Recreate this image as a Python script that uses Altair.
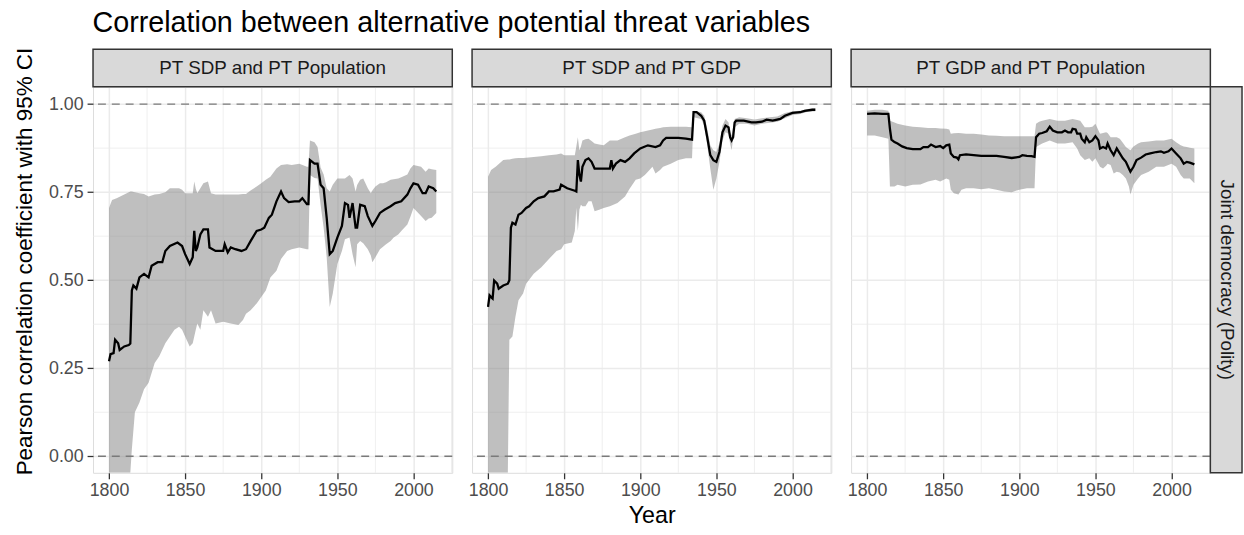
import altair as alt
import pandas as pd

FONT = "Liberation Sans"

TITLE = "Correlation between alternative potential threat variables"
PANELS = ["PT SDP and PT Population", "PT SDP and PT GDP", "PT GDP and PT Population"]
ROW_LABEL = "Joint democracy (Polity)"
X_TITLE = "Year"
Y_TITLE = "Pearson correlation coefficient with 95% CI"

X_TICKS = [1800, 1850, 1900, 1950, 2000]
X_MINOR = [1825, 1875, 1925, 1975, 2025]
Y_TICKS = [0.0, 0.25, 0.5, 0.75, 1.0]
Y_MINOR = [0.125, 0.375, 0.625, 0.875]
REF_LINES = [0.0, 1.0]

# ---------------- Panel 1: PT SDP and PT Population ----------------
p1_year = [1800, 1801, 1803, 1804, 1806, 1807, 1810, 1813, 1814, 1815, 1816, 1818, 1820, 1823, 1826,
           1828, 1832, 1835, 1837, 1840, 1845, 1848, 1850, 1853, 1855, 1856, 1857, 1858, 1860, 1862,
           1865, 1866, 1870, 1875, 1876, 1878, 1880, 1883, 1887, 1890, 1893, 1897, 1900, 1902, 1905,
           1907, 1910, 1913, 1915, 1918, 1922, 1925, 1927, 1930, 1931, 1932, 1935, 1937, 1939, 1941,
           1943, 1945, 1947, 1950, 1953, 1955, 1957, 1958, 1960, 1962, 1963, 1965, 1968, 1970, 1973,
           1975, 1978, 1981, 1985, 1988, 1992, 1996, 1998, 2000, 2003, 2006, 2008, 2010, 2013, 2015]
p1_r = [0.270, 0.290, 0.293, 0.331, 0.321, 0.302, 0.312, 0.316, 0.320, 0.471, 0.485, 0.476, 0.508, 0.518, 0.508,
        0.541, 0.551, 0.551, 0.583, 0.597, 0.607, 0.597, 0.574, 0.546, 0.565, 0.640, 0.583, 0.593, 0.630, 0.644,
        0.644, 0.593, 0.583, 0.583, 0.602, 0.579, 0.593, 0.588, 0.583, 0.588, 0.611, 0.640, 0.644, 0.649, 0.677,
        0.686, 0.724, 0.752, 0.733, 0.722, 0.724, 0.724, 0.733, 0.716, 0.716, 0.841, 0.831, 0.831, 0.771, 0.761,
        0.677, 0.574, 0.583, 0.621, 0.654, 0.719, 0.714, 0.677, 0.719, 0.649, 0.649, 0.714, 0.710, 0.682, 0.654,
        0.668, 0.691, 0.700, 0.710, 0.719, 0.724, 0.743, 0.761, 0.775, 0.771, 0.747, 0.747, 0.766, 0.761, 0.752]
p1_band_year = [1800, 1802, 1805, 1810, 1814, 1815, 1817, 1820, 1823, 1826, 1830, 1833, 1837, 1840, 1843,
                1846, 1848, 1850, 1853, 1855, 1856, 1857, 1858, 1860, 1862, 1865, 1867, 1870, 1875, 1880,
                1885, 1888, 1890, 1893, 1897, 1900, 1903, 1906, 1910, 1913, 1917, 1920, 1925, 1930, 1931,
                1932, 1935, 1937, 1939, 1941, 1943, 1945, 1947, 1950, 1953, 1955, 1958, 1960, 1962, 1963,
                1965, 1967, 1970, 1972, 1973, 1975, 1978, 1980, 1982, 1985, 1987, 1990, 1992, 1996, 1998,
                2000, 2005, 2008, 2010, 2012, 2015]
p1_hi = [0.705, 0.728, 0.733, 0.743, 0.752, 0.752, 0.750, 0.747, 0.745, 0.738, 0.743, 0.745, 0.750, 0.761, 0.761,
         0.761, 0.757, 0.747, 0.747, 0.747, 0.780, 0.760, 0.747, 0.761, 0.775, 0.780, 0.747, 0.743, 0.743, 0.743,
         0.743, 0.745, 0.745, 0.755, 0.766, 0.775, 0.785, 0.794, 0.817, 0.827, 0.829, 0.827, 0.831, 0.822, 0.822,
         0.897, 0.892, 0.878, 0.820, 0.800, 0.761, 0.752, 0.771, 0.789, 0.789, 0.789, 0.799, 0.789, 0.752, 0.770,
         0.785, 0.789, 0.761, 0.747, 0.755, 0.766, 0.775, 0.775, 0.778, 0.785, 0.787, 0.789, 0.792, 0.800, 0.817,
         0.827, 0.822, 0.808, 0.817, 0.815, 0.813]
p1_lo = [-0.047, -0.047, -0.047, -0.047, -0.047, 0.020, 0.125, 0.153, 0.190, 0.209, 0.265, 0.284, 0.321, 0.340, 0.359,
         0.368, 0.359, 0.340, 0.312, 0.321, 0.340, 0.359, 0.377, 0.359, 0.415, 0.396, 0.415, 0.377, 0.382, 0.377,
         0.373, 0.387, 0.405, 0.415, 0.434, 0.452, 0.471, 0.508, 0.527, 0.560, 0.583, 0.588, 0.593, 0.588, 0.588,
         0.799, 0.790, 0.789, 0.714, 0.649, 0.565, 0.424, 0.462, 0.546, 0.583, 0.616, 0.621, 0.574, 0.537, 0.602,
         0.611, 0.605, 0.588, 0.570, 0.551, 0.565, 0.588, 0.595, 0.602, 0.611, 0.621, 0.630, 0.640, 0.658, 0.680,
         0.705, 0.682, 0.668, 0.675, 0.677, 0.691]

# ---------------- Panel 2: PT SDP and PT GDP ----------------
p2_year = [1800, 1801, 1802, 1803, 1804, 1806, 1807, 1810, 1813, 1814, 1815, 1816, 1818, 1820, 1822,
           1825, 1827, 1830, 1833, 1837, 1840, 1843, 1847, 1848, 1852, 1857, 1858, 1859, 1860, 1861,
           1862, 1864, 1866, 1868, 1870, 1875, 1880, 1881, 1882, 1884, 1887, 1890, 1893, 1896, 1900,
           1905, 1910, 1913, 1915, 1917, 1920, 1925, 1930, 1934, 1935, 1937, 1940, 1942, 1944, 1946,
           1948, 1950, 1952, 1954, 1956, 1958, 1959, 1960, 1961, 1962, 1963, 1968, 1973, 1976, 1980,
           1983, 1987, 1992, 1995, 2000, 2005, 2008, 2013, 2015]
p2_r = [0.424, 0.457, 0.452, 0.448, 0.499, 0.490, 0.476, 0.485, 0.490, 0.500, 0.649, 0.663, 0.658, 0.686, 0.691,
        0.705, 0.710, 0.724, 0.733, 0.738, 0.752, 0.752, 0.757, 0.771, 0.761, 0.754, 0.752, 0.841, 0.799, 0.780,
        0.822, 0.841, 0.846, 0.836, 0.817, 0.817, 0.817, 0.841, 0.817, 0.831, 0.841, 0.836, 0.846, 0.860, 0.874,
        0.883, 0.878, 0.883, 0.897, 0.904, 0.904, 0.904, 0.902, 0.899, 0.977, 0.977, 0.967, 0.953, 0.906, 0.855,
        0.841, 0.836, 0.864, 0.920, 0.939, 0.934, 0.906, 0.897, 0.906, 0.948, 0.953, 0.953, 0.948, 0.948, 0.950,
        0.956, 0.953, 0.958, 0.967, 0.975, 0.977, 0.981, 0.984, 0.984]
p2_band_year = [1800, 1802, 1805, 1810, 1813, 1814, 1816, 1818, 1820, 1823, 1825, 1830, 1835, 1840, 1845,
                1848, 1850, 1855, 1857, 1858, 1859, 1860, 1861, 1862, 1864, 1866, 1868, 1870, 1873, 1876,
                1880, 1885, 1890, 1893, 1897, 1900, 1903, 1905, 1908, 1910, 1913, 1915, 1920, 1925, 1930,
                1934, 1935, 1940, 1942, 1944, 1946, 1948, 1950, 1952, 1954, 1956, 1958, 1959, 1960, 1962,
                1965, 1970, 1975, 1980, 1985, 1990, 1995, 2000, 2005, 2010, 2015]
p2_hi = [0.794, 0.813, 0.822, 0.841, 0.843, 0.843, 0.845, 0.846, 0.847, 0.847, 0.848, 0.850, 0.852, 0.855, 0.857,
         0.860, 0.855, 0.855, 0.855, 0.880, 0.906, 0.869, 0.880, 0.897, 0.900, 0.902, 0.895, 0.888, 0.885, 0.883,
         0.897, 0.897, 0.906, 0.911, 0.916, 0.920, 0.923, 0.925, 0.928, 0.930, 0.932, 0.934, 0.936, 0.936, 0.936,
         0.934, 0.981, 0.977, 0.967, 0.930, 0.883, 0.869, 0.864, 0.888, 0.939, 0.958, 0.948, 0.920, 0.911, 0.958,
         0.963, 0.960, 0.956, 0.960, 0.963, 0.965, 0.975, 0.980, 0.981, 0.986, 0.988]
p2_lo = [-0.047, -0.047, -0.047, -0.047, -0.047, 0.331, 0.340, 0.396, 0.443, 0.462, 0.490, 0.518, 0.537, 0.560, 0.583,
         0.588, 0.602, 0.607, 0.640, 0.705, 0.640, 0.700, 0.714, 0.710, 0.710, 0.724, 0.724, 0.696, 0.700, 0.705,
         0.710, 0.719, 0.738, 0.760, 0.785, 0.789, 0.799, 0.808, 0.822, 0.803, 0.813, 0.822, 0.831, 0.841, 0.846,
         0.846, 0.963, 0.958, 0.939, 0.883, 0.817, 0.757, 0.789, 0.836, 0.897, 0.920, 0.916, 0.888, 0.869, 0.934,
         0.944, 0.944, 0.939, 0.944, 0.947, 0.950, 0.960, 0.969, 0.972, 0.978, 0.980]

# ---------------- Panel 3: PT GDP and PT Population ----------------
p3_year = [1800, 1805, 1810, 1814, 1815, 1816, 1818, 1820, 1823, 1826, 1830, 1835, 1837, 1840, 1842,
           1845, 1848, 1850, 1852, 1854, 1855, 1857, 1859, 1860, 1861, 1865, 1870, 1875, 1880, 1885,
           1890, 1895, 1900, 1902, 1905, 1908, 1910, 1911, 1913, 1915, 1918, 1920, 1922, 1925, 1928,
           1930, 1932, 1934, 1935, 1937, 1938, 1940, 1941, 1943, 1944, 1946, 1948, 1950, 1952, 1953,
           1955, 1957, 1958, 1960, 1962, 1964, 1966, 1968, 1970, 1972, 1973, 1975, 1977, 1980, 1983,
           1986, 1990, 1993, 1995, 1998, 2000, 2003, 2006, 2008, 2010, 2012, 2015]
p3_r = [0.972, 0.974, 0.972, 0.972, 0.930, 0.899, 0.892, 0.888, 0.880, 0.875, 0.872, 0.872, 0.878, 0.878, 0.885,
        0.878, 0.881, 0.875, 0.883, 0.885, 0.860, 0.850, 0.848, 0.843, 0.855, 0.857, 0.855, 0.853, 0.853, 0.853,
        0.850, 0.847, 0.850, 0.855, 0.853, 0.852, 0.850, 0.906, 0.916, 0.918, 0.923, 0.936, 0.925, 0.920, 0.920,
        0.925, 0.920, 0.920, 0.930, 0.928, 0.916, 0.916, 0.902, 0.892, 0.906, 0.892, 0.897, 0.909, 0.897, 0.874,
        0.878, 0.874, 0.888, 0.869, 0.855, 0.874, 0.860, 0.846, 0.836, 0.817, 0.808, 0.822, 0.841, 0.848, 0.857,
        0.860, 0.864, 0.866, 0.862, 0.866, 0.874, 0.860, 0.846, 0.831, 0.836, 0.834, 0.829]
p3_band_year = [1800, 1805, 1810, 1814, 1815, 1818, 1820, 1825, 1830, 1835, 1840, 1845, 1848, 1852, 1854,
                1855, 1857, 1860, 1862, 1865, 1870, 1875, 1880, 1885, 1890, 1895, 1900, 1905, 1910, 1911,
                1913, 1915, 1920, 1925, 1930, 1935, 1938, 1940, 1943, 1946, 1948, 1950, 1953, 1955, 1957,
                1958, 1960, 1962, 1964, 1966, 1968, 1970, 1972, 1973, 1975, 1978, 1980, 1985, 1990, 1995,
                2000, 2003, 2006, 2008, 2010, 2012, 2015]
p3_hi = [0.981, 0.984, 0.984, 0.981, 0.953, 0.948, 0.944, 0.939, 0.936, 0.934, 0.932, 0.932, 0.931, 0.930, 0.928,
         0.916, 0.917, 0.918, 0.917, 0.916, 0.916, 0.914, 0.911, 0.910, 0.909, 0.909, 0.909, 0.909, 0.909, 0.944,
         0.950, 0.953, 0.958, 0.953, 0.953, 0.958, 0.955, 0.953, 0.934, 0.934, 0.936, 0.944, 0.916, 0.918, 0.920,
         0.918, 0.906, 0.906, 0.906, 0.902, 0.890, 0.878, 0.872, 0.869, 0.880, 0.888, 0.892, 0.894, 0.897, 0.897,
         0.902, 0.892, 0.883, 0.880, 0.878, 0.876, 0.874]
p3_lo = [0.911, 0.911, 0.906, 0.902, 0.766, 0.766, 0.771, 0.766, 0.771, 0.772, 0.780, 0.785, 0.780, 0.789, 0.785,
         0.757, 0.747, 0.743, 0.757, 0.761, 0.761, 0.758, 0.761, 0.757, 0.752, 0.750, 0.757, 0.761, 0.761, 0.878,
         0.883, 0.888, 0.897, 0.888, 0.888, 0.892, 0.874, 0.855, 0.841, 0.846, 0.836, 0.846, 0.822, 0.817, 0.825,
         0.831, 0.827, 0.803, 0.808, 0.806, 0.799, 0.789, 0.766, 0.743, 0.771, 0.789, 0.799, 0.808, 0.822, 0.822,
         0.831, 0.822, 0.799, 0.789, 0.789, 0.789, 0.775]

SERIES = [
    (p1_year, p1_r, p1_band_year, p1_lo, p1_hi),
    (p2_year, p2_r, p2_band_year, p2_lo, p2_hi),
    (p3_year, p3_r, p3_band_year, p3_lo, p3_hi),
]

W, H = 363, 390
STRIP = 38
RSTRIP = 32

X_DOMAIN = [1789.5, 2025.5]
Y_DOMAIN = [-0.047, 1.049]

GRID = "#ebebeb"
DARK = "#333333"


def make_panel(idx, line_year, line_r, band_year, band_lo, band_hi):
    xscale = alt.Scale(domain=X_DOMAIN, nice=False, zero=False)
    yscale = alt.Scale(domain=Y_DOMAIN, nice=False, zero=False)

    xaxis_kw = dict(values=X_TICKS, format="d", grid=True, gridColor=GRID, gridWidth=1.5,
                    domain=False, ticks=True, tickSize=6, tickColor=DARK, tickWidth=1.3,
                    labelFontSize=18, labelColor="#4d4d4d", labelFont=FONT, labelPadding=3,
                    titleFontSize=23.5, titleFont=FONT, titleColor="black", titleFontWeight="normal",
                    titlePadding=4)
    if idx == 1:
        xaxis = alt.Axis(title=X_TITLE, **xaxis_kw)
    else:
        xaxis = alt.Axis(title=None, **xaxis_kw)

    if idx == 0:
        yaxis = alt.Axis(values=Y_TICKS, format=".2f", grid=True, gridColor=GRID, gridWidth=1.5,
                         domain=False, ticks=True, tickSize=6, tickColor=DARK, tickWidth=1.3,
                         labelFontSize=18, labelColor="#4d4d4d", labelFont=FONT, labelPadding=4,
                         title=Y_TITLE, titleFontSize=22.7, titleFont=FONT, titleColor="black",
                         titleFontWeight="normal", titlePadding=12, titleY=176)
    else:
        yaxis = alt.Axis(values=Y_TICKS, grid=True, gridColor=GRID, gridWidth=1.5, domain=False,
                         ticks=False, labels=False, title=None)

    def X(field):
        return alt.X(field, scale=xscale, axis=xaxis)

    def Y(field):
        return alt.Y(field, scale=yscale, axis=yaxis)

    band_df = pd.DataFrame({"year": band_year, "lo": band_lo, "hi": band_hi})
    line_df = pd.DataFrame({"year": line_year, "r": line_r})
    xminor_df = pd.DataFrame({"year": X_MINOR})
    yminor_df = pd.DataFrame({"r": Y_MINOR})
    ref_df = pd.DataFrame({"r": REF_LINES})
    strip_df = pd.DataFrame({"label": [PANELS[idx]]})

    xminor = alt.Chart(xminor_df).mark_rule(color=GRID, strokeWidth=0.8).encode(x=X("year:Q"))
    yminor = alt.Chart(yminor_df).mark_rule(color=GRID, strokeWidth=0.8).encode(y=Y("r:Q"))
    area = alt.Chart(band_df).mark_area(color="#7f7f7f", opacity=0.5, clip=True).encode(
        x=X("year:Q"), y=Y("lo:Q"), y2="hi:Q")
    ref = alt.Chart(ref_df).mark_rule(color="#7a7a7a", strokeWidth=1.5, strokeDash=[8, 6]).encode(
        y=Y("r:Q"))
    line = alt.Chart(line_df).mark_line(color="black", strokeWidth=2.3).encode(
        x=X("year:Q"), y=Y("r:Q"))
    strip_rect = alt.Chart(strip_df).mark_rect(fill="#d9d9d9", stroke=DARK, strokeWidth=1.5).encode(
        x=alt.value(0), x2=alt.value(W), y=alt.value(-STRIP), y2=alt.value(0))
    strip_text = alt.Chart(strip_df).mark_text(font=FONT, fontSize=19, color="#1a1a1a",
                                               baseline="middle", align="center").encode(
        x=alt.value(W / 2), y=alt.value(-STRIP / 2), text="label:N")

    layers = [xminor, yminor, area, ref, line, strip_rect, strip_text]

    if idx == 2:
        rdf = pd.DataFrame({"label": [ROW_LABEL]})
        rrect = alt.Chart(rdf).mark_rect(fill="#d9d9d9", stroke=DARK, strokeWidth=1.5).encode(
            x=alt.value(W), x2=alt.value(W + RSTRIP), y=alt.value(0), y2=alt.value(H))
        rtext = alt.Chart(rdf).mark_text(font=FONT, fontSize=19, color="#1a1a1a", angle=90,
                                         baseline="middle", align="center").encode(
            x=alt.value(W + 17), y=alt.value(H / 2), text="label:N")
        layers += [rrect, rtext]

    return alt.layer(*layers).properties(width=W, height=H)


panels = [make_panel(i, *SERIES[i]) for i in range(3)]

chart = alt.hconcat(*panels, spacing=13).properties(
    title=alt.TitleParams(TITLE, anchor="start", fontSize=29, font=FONT, color="black",
                          fontWeight="normal", offset=9, dx=80),
    padding={"left": 13, "top": 6, "right": 0, "bottom": 0},
).configure_view(stroke=DARK, strokeWidth=1.5).configure(background="white")

chart.save("out.html", embed_options={"renderer": "svg", "actions": False})
